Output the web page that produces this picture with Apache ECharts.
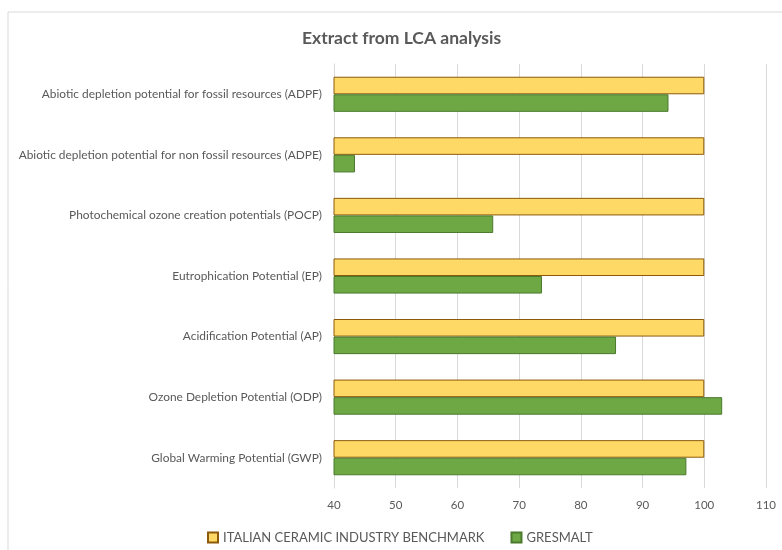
<!DOCTYPE html>
<html>
<head>
<meta charset="utf-8">
<script src="https://cdn.jsdelivr.net/npm/echarts@6/dist/echarts.min.js"></script>
<style>html,body{margin:0;padding:0;background:#fff;}#c{width:782px;height:550px;}</style>
</head>
<body>
<div id="c"></div>
<script>
const categories = [
  'Abiotic depletion potential for fossil resources (ADPF)',
  'Abiotic depletion potential for non fossil resources (ADPE)',
  'Photochemical ozone creation potentials (POCP)',
  'Eutrophication Potential (EP)',
  'Acidification Potential (AP)',
  'Ozone Depletion Potential (ODP)',
  'Global Warming Potential (GWP)'
];
const benchmark = [100, 100, 100, 100, 100, 100, 100];
const gresmalt = [94.2, 43.4, 65.8, 73.7, 85.7, 102.9, 97.1];
const seriesNames = ['ITALIAN CERAMIC INDUSTRY BENCHMARK', 'GRESMALT'];
const xTicks = {min: 40, max: 110, interval: 10};

const font = 'Lato';
const chart = echarts.init(document.getElementById('c'), null, {renderer: 'canvas'});
chart.setOption({
  animation: false,
  backgroundColor: '#fff',
  graphic: [{
    type: 'rect', shape: {x: 8, y: 12, width: 800, height: 600},
    style: {fill: 'none', stroke: '#d9d9d9', lineWidth: 1}, silent: true, z: -1
  }],
  title: {
    text: 'Extract from LCA analysis', left: 297, top: 24,
    textStyle: {fontFamily: font, fontSize: 17.5, fontWeight: 'bold', color: '#595959'}
  },
  legend: {
    left: 202, top: 526, itemWidth: 10, itemHeight: 10, itemGap: 26, icon: 'rect',
    textStyle: {fontFamily: font, fontSize: 13, color: '#595959'},
    data: seriesNames
  },
  grid: {left: 334, right: 16, top: 64, bottom: 62, containLabel: false},
  xAxis: {
    type: 'value', min: xTicks.min, max: xTicks.max, interval: xTicks.interval,
    axisLine: {show: false}, axisTick: {show: false},
    splitLine: {lineStyle: {color: '#d9d9d9', width: 1}},
    axisLabel: {fontFamily: font, fontSize: 11.5, color: '#595959', margin: 11}
  },
  yAxis: {
    type: 'category', data: categories, inverse: true,
    axisLine: {show: true, lineStyle: {color: '#d9d9d9'}}, axisTick: {show: false},
    axisLabel: {fontFamily: font, fontSize: 11.9, color: '#595959', margin: 12}
  },
  series: [
    {name: seriesNames[0], type: 'bar', data: benchmark, barGap: '0%', barCategoryGap: '42%', clip: true,
     itemStyle: {color: '#FFD966', borderColor: '#8C5A0A', borderWidth: 1}},
    {name: seriesNames[1], type: 'bar', data: gresmalt, barGap: '0%', barCategoryGap: '42%', clip: true,
     itemStyle: {color: '#6DA844', borderColor: '#4B7A2E', borderWidth: 1}}
  ]
});
</script>
</body>
</html>
